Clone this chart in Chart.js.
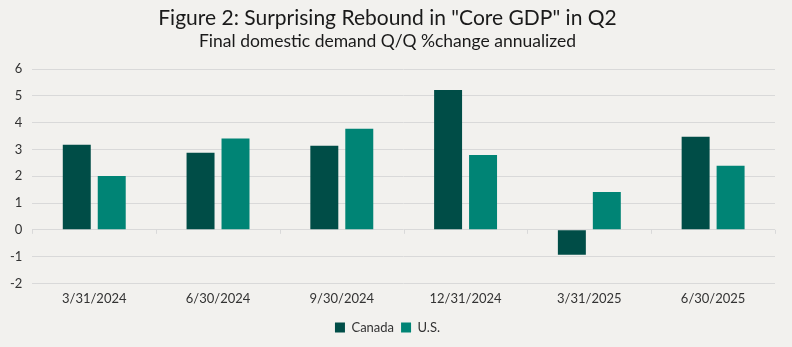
<!DOCTYPE html>
<html lang="en">

<head>
  <meta charset="UTF-8">
  <title>Figure 2: Surprising Rebound in "Core GDP" in Q2</title>
  <script src="https://cdn.jsdelivr.net/npm/chart.js"></script>
  <style>
    * {
      margin: 0;
      padding: 0;
      box-sizing: border-box;
    }

    body {
      background: #f2f1ee;
      font-family: 'Lato', sans-serif;
    }

    .wrap {
      width: 792px;
      height: 347px;
    }
  </style>
</head>

<body>
  <div class="wrap">
    <canvas id="gdpChart"></canvas>
  </div>

  <script>
    const quarters = ['3/31/2024', '6/30/2024', '9/30/2024', '12/31/2024', '3/31/2025', '6/30/2025'];
    const canada = [3.18, 2.88, 3.14, 5.22, -0.93, 3.48];
    const us = [2.01, 3.41, 3.78, 2.80, 1.41, 2.39];
    const yTicks = [-2, -1, 0, 1, 2, 3, 4, 5, 6];

    const gridColor = '#d9d9d9';

    // short tick marks on the zero line between the quarters
    const zeroTicks = {
      id: 'zeroTicks',
      afterDatasetsDraw(chart) {
        const { ctx, scales: { x, y } } = chart;
        const y0 = y.getPixelForValue(0);
        ctx.save();
        ctx.strokeStyle = gridColor;
        ctx.lineWidth = 1;
        ctx.beginPath();
        for (let i = 0; i <= quarters.length; i++) {
          const px = Math.round(x.getPixelForValue(i - 0.5)) + 0.5;
          ctx.moveTo(px, y0);
          ctx.lineTo(px, y0 + 4);
        }
        ctx.stroke();
        ctx.restore();
      }
    };

    new Chart(document.getElementById('gdpChart'), {
      type: 'bar',
      data: {
        labels: quarters,
        datasets: [
          { label: 'Canada', data: canada, backgroundColor: '#004d47' },
          { label: 'U.S.', data: us, backgroundColor: '#008475' }
        ]
      },
      options: {
        responsive: true,
        maintainAspectRatio: false,
        animation: false,
        categoryPercentage: 0.565,
        barPercentage: 0.8,
        layout: {
          padding: { left: 0, right: 17, top: 2, bottom: 3 }
        },
        plugins: {
          title: {
            display: true,
            text: 'Figure 2: Surprising Rebound in "Core GDP" in Q2',
            color: '#1a1a1a',
            font: { family: 'Lato', size: 21, weight: 'normal' },
            padding: { top: 4, bottom: 0 }
          },
          subtitle: {
            display: true,
            text: 'Final domestic demand Q/Q %change annualized',
            color: '#1a1a1a',
            font: { family: 'Lato', size: 17.5, weight: 'normal' },
            padding: { top: 0, bottom: 17 }
          },
          legend: {
            position: 'bottom',
            labels: {
              boxWidth: 10,
              boxHeight: 10,
              padding: 7,
              color: '#333',
              font: { family: 'Lato', size: 13 }
            }
          },
          tooltip: { enabled: false }
        },
        scales: {
          x: {
            afterFit(axis) {
              // extra room between the date labels and the legend
              axis.height += 7;
            },
            grid: { display: false },
            border: { display: false },
            ticks: {
              color: '#333',
              font: { family: 'Lato', size: 13 },
              padding: 0,
              maxRotation: 0
            }
          },
          y: {
            min: -2,
            max: 6,
            afterBuildTicks(axis) {
              axis.ticks = yTicks.map(v => ({ value: v }));
            },
            grid: { color: gridColor, drawTicks: false },
            border: { display: false },
            ticks: {
              color: '#333',
              font: { family: 'Lato', size: 13 },
              padding: 10
            }
          }
        }
      },
      plugins: [zeroTicks]
    });
  </script>
</body>

</html>
